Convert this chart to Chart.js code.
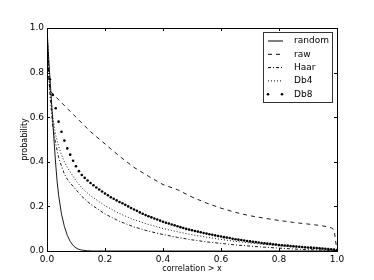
<!DOCTYPE html>
<html>
<head>
    <script src="https://cdn.jsdelivr.net/npm/chart.js"></script>
    <style>
        body { margin: 0; background: #fff; }
        #wrap { width: 374px; height: 280px; }
    </style>
</head>
<body>
    <div id="wrap"><canvas id="myChart"></canvas></div>
    <script>
        // data
        const randomX = [0, 0.005, 0.01, 0.015, 0.02, 0.025, 0.03, 0.035, 0.04, 0.05, 0.06, 0.07, 0.08, 0.09, 0.1, 0.11, 0.12, 0.14, 0.16, 0.2, 0.4, 0.6, 0.8, 1.0];
        const randomY = [1, 0.88, 0.78, 0.68, 0.58, 0.48, 0.39, 0.31, 0.25, 0.165, 0.11, 0.07, 0.043, 0.025, 0.014, 0.007, 0.004, 0.001, 0, 0, 0, 0, 0, 0];

        const rawX = [0, 0.005, 0.01, 0.02, 0.05, 0.1, 0.15, 0.2, 0.25, 0.3, 0.35, 0.4, 0.45, 0.5, 0.55, 0.6, 0.65, 0.7, 0.75, 0.8, 0.85, 0.9, 0.95, 0.98, 0.99, 1.0];
        const rawY = [1, 0.8, 0.72, 0.705, 0.665, 0.6, 0.535, 0.48, 0.425, 0.375, 0.335, 0.298, 0.275, 0.242, 0.215, 0.192, 0.173, 0.158, 0.147, 0.137, 0.128, 0.121, 0.113, 0.104, 0.095, 0];

        const waveX = [0, 0.005, 0.01, 0.02, 0.03, 0.04, 0.05, 0.06, 0.07, 0.08, 0.1, 0.12, 0.15, 0.2, 0.25, 0.3, 0.35, 0.4, 0.45, 0.5, 0.55, 0.6, 0.65, 0.7, 0.75, 0.8, 0.85, 0.9, 0.95, 1.0];
        const haarY = [1, 0.82, 0.7, 0.56, 0.48, 0.42, 0.38, 0.345, 0.322, 0.305, 0.275, 0.245, 0.21, 0.166, 0.133, 0.108, 0.089, 0.074, 0.061, 0.05, 0.041, 0.034, 0.027, 0.022, 0.017, 0.013, 0.009, 0.006, 0.004, 0.002];
        const db4Y = [1, 0.85, 0.73, 0.6, 0.52, 0.47, 0.43, 0.4, 0.375, 0.355, 0.315, 0.283, 0.248, 0.203, 0.168, 0.14, 0.119, 0.101, 0.086, 0.073, 0.062, 0.052, 0.043, 0.036, 0.029, 0.023, 0.018, 0.013, 0.008, 0.003];

        const db8X = [0.00, 0.01, 0.02, 0.03, 0.04, 0.05, 0.06, 0.07, 0.08, 0.09,
            0.10, 0.11, 0.12, 0.13, 0.14, 0.15, 0.16, 0.17, 0.18, 0.19,
            0.20, 0.21, 0.22, 0.23, 0.24, 0.25, 0.26, 0.27, 0.28, 0.29,
            0.30, 0.31, 0.32, 0.33, 0.34, 0.35, 0.36, 0.37, 0.38, 0.39,
            0.40, 0.41, 0.42, 0.43, 0.44, 0.45, 0.46, 0.47, 0.48, 0.49,
            0.50, 0.51, 0.52, 0.53, 0.54, 0.55, 0.56, 0.57, 0.58, 0.59,
            0.60, 0.61, 0.62, 0.63, 0.64, 0.65, 0.66, 0.67, 0.68, 0.69,
            0.70, 0.71, 0.72, 0.73, 0.74, 0.75, 0.76, 0.77, 0.78, 0.79,
            0.80, 0.81, 0.82, 0.83, 0.84, 0.85, 0.86, 0.87, 0.88, 0.89,
            0.90, 0.91, 0.92, 0.93, 0.94, 0.95, 0.96, 0.97, 0.98, 0.99, 1.00];
        const db8Y = [1.0, 0.77, 0.70, 0.64, 0.58, 0.535, 0.495, 0.46, 0.432, 0.405,
            0.38, 0.358, 0.341, 0.328, 0.316, 0.305, 0.295, 0.285, 0.276, 0.267,
            0.258, 0.25, 0.241, 0.234, 0.227, 0.22, 0.214, 0.207, 0.2, 0.193,
            0.186, 0.18, 0.173, 0.167, 0.161, 0.156, 0.151, 0.146, 0.141, 0.136,
            0.131, 0.127, 0.123, 0.119, 0.115, 0.111, 0.107, 0.103, 0.099, 0.096,
            0.093, 0.09, 0.087, 0.084, 0.081, 0.078, 0.075, 0.073, 0.07, 0.067,
            0.065, 0.062, 0.06, 0.058, 0.055, 0.053, 0.051, 0.049, 0.047, 0.045,
            0.043, 0.041, 0.04, 0.038, 0.036, 0.035, 0.033, 0.032, 0.03, 0.029,
            0.027, 0.026, 0.025, 0.024, 0.022, 0.021, 0.02, 0.019, 0.018, 0.017,
            0.016, 0.015, 0.014, 0.013, 0.012, 0.011, 0.01, 0.009, 0.008, 0.006, 0.004];

        const tickValues = [0, 0.2, 0.4, 0.6, 0.8, 1.0];
        const legendNames = ['random', 'raw', 'Haar', 'Db4', 'Db8'];

        function pts(xs, ys) {
            return xs.map((v, i) => ({ x: v, y: ys[i] }));
        }

        const FONT = 'DejaVu Sans';

        const styles = [
            { dash: [] },
            { dash: [4, 4] },
            { dash: [3, 2, 1, 2] },
            { dash: [1, 2] },
            { dots: true }
        ];

        // frame with inward ticks on all four sides, plus the boxed legend
        const framePlugin = {
            id: 'frame',
            afterDraw(chart) {
                const ctx = chart.ctx;
                const a = chart.chartArea;
                const xs = chart.scales.x, ys = chart.scales.y;
                ctx.save();
                ctx.strokeStyle = '#000';
                ctx.lineWidth = 1;
                ctx.setLineDash([]);
                ctx.strokeRect(Math.round(a.left) + 0.5, Math.round(a.top) + 0.5, Math.round(a.width), Math.round(a.height));
                ctx.beginPath();
                tickValues.forEach(v => {
                    const px = Math.round(xs.getPixelForValue(v)) + 0.5;
                    ctx.moveTo(px, a.top); ctx.lineTo(px, a.top + 3);
                    ctx.moveTo(px, a.bottom); ctx.lineTo(px, a.bottom - 3);
                    const py = Math.round(ys.getPixelForValue(v)) + 0.5;
                    ctx.moveTo(a.left, py); ctx.lineTo(a.left + 3, py);
                    ctx.moveTo(a.right, py); ctx.lineTo(a.right - 3, py);
                });
                ctx.stroke();

                // legend
                const lx = 263, ly = 32, lw = 69, lh = 70;
                ctx.fillStyle = '#fff';
                ctx.fillRect(lx, ly, lw, lh);
                ctx.strokeStyle = '#333';
                ctx.strokeRect(lx + 0.5, ly + 0.5, lw, lh);
                ctx.font = '9px "' + FONT + '"';
                ctx.textBaseline = 'middle';
                ctx.textAlign = 'left';
                legendNames.forEach((name, i) => {
                    const cy = 41 + i * 13.3;
                    const st = styles[i];
                    ctx.strokeStyle = '#000';
                    ctx.fillStyle = '#000';
                    if (st.dots) {
                        [268, 282].forEach(px => {
                            ctx.beginPath();
                            ctx.arc(px, cy, 1.3, 0, Math.PI * 2);
                            ctx.fill();
                        });
                    } else {
                        ctx.setLineDash(st.dash);
                        ctx.beginPath();
                        ctx.moveTo(268, cy); ctx.lineTo(283, cy);
                        ctx.stroke();
                        ctx.setLineDash([]);
                    }
                    ctx.fillText(name, 294, cy);
                });
                ctx.restore();
            }
        };

        function lineSet(label, xs, ys, dash) {
            return {
                label: label,
                data: pts(xs, ys),
                showLine: true,
                borderColor: '#000',
                borderWidth: 0.9,
                borderDash: dash,
                pointRadius: 0,
                tension: 0,
                fill: false
            };
        }

        const datasets = [
            lineSet('random', randomX, randomY, []),
            lineSet('raw', rawX, rawY, [4, 4]),
            lineSet('Haar', waveX, haarY, [3, 2, 1, 2]),
            lineSet('Db4', waveX, db4Y, [1, 2]),
            {
                label: 'Db8',
                data: pts(db8X, db8Y),
                showLine: false,
                pointRadius: 1.3,
                pointBackgroundColor: '#000',
                pointBorderWidth: 0
            }
        ];

        const axisTicks = {
            color: '#000',
            font: { family: FONT, size: 9 },
            padding: 3,
            callback: v => Number(v).toFixed(1)
        };

        new Chart(document.getElementById('myChart'), {
            type: 'scatter',
            data: { datasets: datasets },
            options: {
                responsive: true,
                maintainAspectRatio: false,
                animation: false,
                layout: { padding: { left: 0, top: 28, right: 37, bottom: 0 } },
                plugins: { legend: { display: false }, tooltip: { enabled: false } },
                scales: {
                    x: {
                        type: 'linear', min: 0, max: 1,
                        afterBuildTicks: s => { s.ticks = tickValues.map(v => ({ value: v })); },
                        afterFit: s => { s.height = 29; },
                        grid: { display: false, drawTicks: false },
                        border: { display: false },
                        ticks: axisTicks,
                        title: { display: true, text: 'correlation > x', color: '#000', font: { family: FONT, size: 8 }, padding: { top: 0, bottom: 6 } }
                    },
                    y: {
                        type: 'linear', min: 0, max: 1,
                        afterBuildTicks: s => { s.ticks = tickValues.map(v => ({ value: v })); },
                        afterFit: s => { s.width = 47; },
                        grid: { display: false, drawTicks: false },
                        border: { display: false },
                        ticks: axisTicks,
                        title: { display: true, text: 'probability', color: '#000', font: { family: FONT, size: 8 }, padding: { top: 20, bottom: 0 } }
                    }
                }
            },
            plugins: [framePlugin]
        });
    </script>
</body>
</html>
